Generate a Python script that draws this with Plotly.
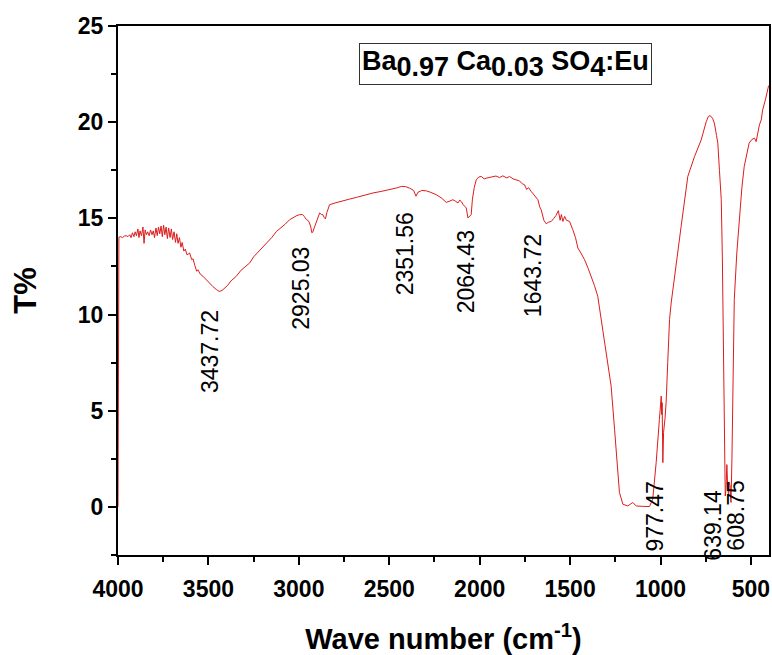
import plotly.graph_objects as go

wavenumber = [4000, 3999, 3995, 3985, 3975, 3965, 3955, 3945, 3935, 3928, 3920, 3912, 3905, 3898, 3890, 3884,
              3878, 3870, 3862, 3856, 3850, 3843, 3836, 3828, 3820, 3812, 3805, 3798, 3790, 3783, 3776, 3769,
              3762, 3755, 3748, 3741, 3734, 3727, 3720, 3712, 3705, 3698, 3690, 3682, 3675, 3668, 3660, 3652,
              3645, 3636, 3628, 3618, 3604, 3592, 3585, 3575, 3565, 3558, 3545, 3530, 3512, 3493, 3475, 3456,
              3440, 3425, 3410, 3395, 3375, 3346, 3320, 3300, 3272, 3250, 3230, 3205, 3180, 3150, 3124, 3100,
              3075, 3051, 3030, 3010, 2996, 2980, 2970, 2959, 2945, 2935, 2928, 2922, 2915, 2907, 2895, 2885,
              2875, 2867, 2860, 2853, 2845, 2830, 2800, 2756, 2720, 2682, 2640, 2590, 2545, 2498, 2460, 2433,
              2410, 2387, 2365, 2352, 2342, 2320, 2295, 2270, 2240, 2210, 2185, 2165, 2148, 2135, 2120, 2110,
              2102, 2090, 2074, 2065, 2055, 2047, 2040, 2030, 2019, 2005, 1991, 1975, 1964, 1940, 1910, 1890,
              1872, 1850, 1835, 1815, 1798, 1780, 1765, 1752, 1740, 1730, 1715, 1700, 1690, 1678, 1668, 1660,
              1645, 1632, 1620, 1604, 1590, 1578, 1565, 1562, 1555, 1548, 1540, 1530, 1520, 1503, 1495, 1485,
              1470, 1457, 1440, 1420, 1400, 1383, 1365, 1347, 1328, 1300, 1273, 1254, 1236, 1227, 1208, 1190,
              1181, 1165, 1153, 1140, 1134, 1100, 1061, 1043, 1024, 1006, 996, 993, 991, 987, 983, 975,
              969, 960, 950, 941, 913, 886, 849, 812, 775, 760, 747, 735, 725, 712, 702, 690,
              683, 674, 664, 658, 655, 652, 646, 642, 638, 633, 629, 624, 620, 615, 612, 610,
              605, 601, 592, 578, 564, 550, 537, 520, 510, 495, 480, 471, 462, 453, 443, 435,
              420, 410, 402]

transmittance = [0.0, 14.0, 14.02, 14.05, 14.0, 14.08, 14.1, 14.05, 14.15, 14.0, 14.25, 14.05, 14.3, 14.1, 14.45, 14.0,
                 14.35, 14.1, 14.55, 13.7, 14.4, 14.15, 14.3, 14.1, 14.4, 14.15, 14.35, 14.0, 14.5, 14.1, 14.55, 14.2,
                 14.6, 14.05, 14.65, 14.15, 14.55, 13.95, 14.5, 14.0, 14.45, 13.9, 14.3, 13.75, 14.2, 13.7, 14.0, 13.5,
                 13.75, 13.3, 13.4, 13.1, 13.2, 12.85, 12.9, 12.55, 12.25, 12.33, 12.1, 11.99, 11.8, 11.64, 11.45, 11.3,
                 11.2, 11.25, 11.39, 11.5, 11.75, 11.99, 12.3, 12.45, 12.68, 13.0, 13.2, 13.45, 13.72, 14.0, 14.32, 14.5,
                 14.7, 14.93, 15.05, 15.15, 15.19, 15.2, 15.1, 14.95, 14.85, 14.6, 14.25, 14.3, 14.5, 14.7, 15.0, 15.28,
                 15.2, 15.19, 15.05, 14.97, 15.3, 15.71, 15.8, 15.93, 16.0, 16.09, 16.2, 16.32, 16.4, 16.49, 16.58, 16.66,
                 16.65, 16.57, 16.45, 16.15, 16.35, 16.45, 16.43, 16.35, 16.23, 16.05, 15.83, 15.9, 15.97, 15.9, 15.8, 15.95,
                 15.88, 15.7, 15.54, 15.02, 15.1, 15.19, 16.0, 16.6, 17.0, 17.15, 17.18, 17.05, 17.09, 17.15, 17.2, 17.12,
                 17.21, 17.1, 17.18, 17.05, 17.0, 16.95, 16.8, 16.75, 16.5, 16.6, 16.4, 16.2, 16.1, 15.97, 15.6, 15.45,
                 14.9, 14.72, 14.8, 14.84, 15.0, 15.15, 15.4, 15.28, 14.9, 15.2, 14.84, 15.1, 14.9, 14.84, 14.6, 14.41,
                 14.0, 13.46, 13.2, 12.85, 12.4, 11.99, 11.5, 10.95, 9.74, 8.01, 6.28, 4.03, 1.96, 0.75, 0.14, 0.08,
                 0.05, 0.15, 0.23, 0.1, 0.05, 0.03, 0.02, 0.4, 2.3, 4.55, 5.76, 4.8, 5.42, 2.3, 3.88, 4.6,
                 5.42, 7.5, 9.74, 10.6, 12.51, 14.58, 17.18, 18.21, 19.08, 19.6, 20.03, 20.3, 20.34, 20.2, 19.95, 19.3,
                 18.91, 17.5, 15.97, 13.0, 10.78, 5.59, 1.8, 0.57, 0.9, 2.2, 1.2, 0.57, 1.3, 1.09, 0.4, 0.23,
                 2.5, 5.59, 10.77, 13.2, 15.1, 16.6, 17.7, 18.5, 18.91, 19.1, 19.17, 18.99, 19.5, 19.86, 20.12, 20.64,
                 21.16, 21.6, 21.9]

peak_labels = ["3437.72", "2925.03", "2351.56", "2064.43", "1643.72", "977.47", "639.14", "608.75"]
peak_label_x = [3488, 2985, 2412, 2078, 1708, 1028, 707, 580]
peak_label_y = [8.08, 11.37, 13.14, 12.23, 12.02, -0.48, -0.95, -0.43]

x_ticks = [4000, 3500, 3000, 2500, 2000, 1500, 1000, 500]
y_ticks = [0, 5, 10, 15, 20, 25]

FONT = "Liberation Sans, Arial, sans-serif"

fig = go.Figure()
fig.add_trace(go.Scatter(x=wavenumber, y=transmittance, mode="lines",
                         line=dict(color="#dd1c1c", width=1), showlegend=False))

for t, xx, yy in zip(peak_labels, peak_label_x, peak_label_y):
    fig.add_annotation(x=xx, y=yy, xref="x", yref="y", text=t, textangle=-90,
                       showarrow=False, xanchor="center", yanchor="middle",
                       font=dict(family=FONT, size=23, color="black"))

sub = '<sub><span style="font-size:27px">{}</span></sub>'
legend_text = ("<b>Ba" + sub.format("0.97") + " Ca" + sub.format("0.03") + " SO" + sub.format("4") + ":Eu</b>")
fig.add_annotation(x=1857, y=23.03, xref="x", yref="y", text=legend_text, showarrow=False,
                   xanchor="center", yanchor="middle", font=dict(family=FONT, size=27, color="black"),
                   bordercolor="#333333", borderwidth=1, borderpad=2, bgcolor="white")

axis_common = dict(showline=True, linecolor="black", linewidth=2, mirror=True, showgrid=False,
                   zeroline=False, ticks="outside", ticklen=8, tickwidth=2, tickcolor="black",
                   automargin=False,
                   tickfont=dict(family=FONT, size=23, color="black", weight="bold"))

fig.update_xaxes(range=[4000, 400], tickvals=x_ticks, ticktext=[str(v) for v in x_ticks],
                 ticklabelstandoff=4,
                 minor=dict(dtick=250, ticks="outside", ticklen=5, tickwidth=1.5, tickcolor="black", tick0=0),
                 title=dict(text="<b>Wave number (cm<sup>-1</sup>)</b>", standoff=28,
                            font=dict(family=FONT, size=29, color="black")),
                 **axis_common)
fig.update_yaxes(range=[-2.5, 25], tickvals=y_ticks, ticktext=[str(v) for v in y_ticks],
                 minor=dict(dtick=2.5, ticks="outside", ticklen=5, tickwidth=1.5, tickcolor="black", tick0=0),
                 title=dict(text="<b>T%</b>", standoff=32,
                            font=dict(family=FONT, size=31, color="black")),
                 **axis_common)

fig.update_layout(width=772, height=655, margin=dict(l=118, r=3, t=26, b=100),
                  paper_bgcolor="white", plot_bgcolor="white")

# remove the default page margin and scrollbars so the figure fills the window exactly
fig.write_html("out.html", config={"displayModeBar": False}, post_script=(
    "document.body.style.margin='0';"
    "document.body.style.overflow='hidden';"
    "document.documentElement.style.overflow='hidden';"))
